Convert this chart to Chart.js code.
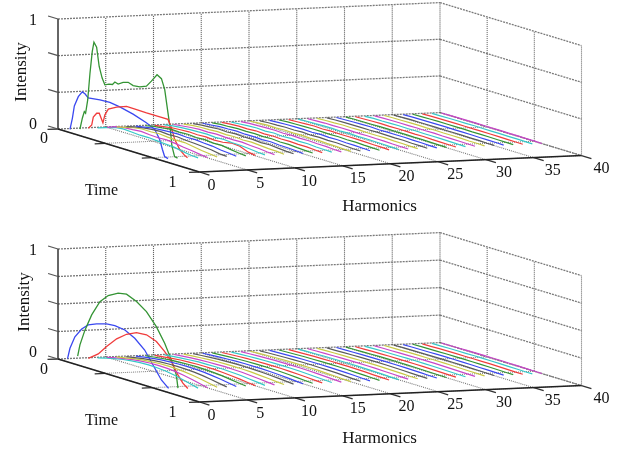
<!DOCTYPE html>
<html>
<head>
    <title>Harmonics waterfall</title>
    <script src="https://cdn.jsdelivr.net/npm/chart.js"></script>
    <style>
        body { margin: 0; background: #fff; }
        canvas { display: block; }
    </style>
</head>
<body>
<canvas id="topChart" width="634" height="226"></canvas>
<canvas id="bottomChart" width="634" height="226"></canvas>

<script>
/* AXES */
const harmonicTicks = [0, 5, 10, 15, 20, 25, 30, 35, 40];
const timeTicks = [0, 1 / 3, 2 / 3, 1];
const topIntensityTicks = [0, 1 / 3, 2 / 3, 1];
const bottomIntensityTicks = [0, 0.25, 0.5, 0.75, 1];

/* TOP PLOT, harmonics 1-3 */
const topH1Time = [.017,.034,.048,.076,.104,.123,.146,.229,.299,.369,.463,.557,.616,.651,.670,.686,.71];
const topH1Int = [0,.107,.224,.32,.374,.364,.336,.351,.355,.341,.312,.271,.234,.156,.074,.014,.005];
const topH2Time = [.02,.037,.051,.06,.075,.091,.107,.119,.138,.156,.177,.196,.225,.25,.267,.29,.325,.361,.396,.443,.49,.525,.565,.596,.619,.642,.659,.67,.689,.71];
const topH2Int = [0,.105,.17,.159,.286,.535,.738,.828,.791,.622,.525,.471,.489,.495,.524,.515,.544,.558,.542,.549,.574,.633,.707,.683,.595,.392,.247,.1,.011,.005];
const topH3Time = [.012,.036,.047,.071,.089,.115,.129,.153,.212,.282,.353,.423,.517,.575,.599,.622,.657,.692,.713];
const topH3Int = [0,.04,.115,.16,.167,.09,.168,.229,.271,.305,.303,.301,.302,.301,.235,.138,.061,.02,.005];

/* BOTTOM PLOT, harmonics 1-3 */
const bottomH1Time = [0,.017,.052,.1,.146,.205,.276,.334,.405,.475,.545,.604,.663,.714];
const bottomH1Int = [0,.1,.219,.308,.363,.395,.423,.43,.418,.37,.291,.178,.065,.009];
const bottomH2Time = [.004,.02,.056,.103,.161,.22,.29,.349,.42,.49,.56,.619,.666,.701,.713];
const bottomH2Int = [.02,.129,.279,.434,.577,.655,.705,.718,.679,.615,.506,.378,.245,.122,.006];
const bottomH3Time = [.012,.082,.141,.212,.282,.352,.423,.493,.552,.599,.645,.68,.715];
const bottomH3Int = [0,.067,.157,.255,.324,.366,.374,.34,.272,.2,.096,.035,0];

/* HARMONICS 4-40, sampled at lowTime, one row per harmonic */
const lowTime = [.01,.07,.13,.19,.25,.31,.37,.43,.49,.55,.61,.67,.72];
const topLow = [
    [0,.025,.05,.06,.055,.05,.052,.045,.04,.035,.02,.008,.004],
    [0,.03,.045,.05,.058,.05,.046,.05,.042,.03,.022,.01,.004],
    [0,.02,.04,.052,.05,.056,.048,.044,.046,.034,.02,.012,.005],
    [0,.02,.035,.045,.05,.044,.048,.04,.036,.03,.024,.01,.006],
    [0,.015,.03,.036,.042,.045,.04,.042,.034,.03,.018,.012,.004],
    [0,.018,.028,.04,.036,.04,.034,.038,.03,.032,.02,.01,.004],
    [0,.012,.025,.03,.035,.032,.036,.03,.034,.05,.045,.014,.004],
    [0,.014,.022,.028,.03,.034,.028,.032,.026,.024,.018,.01,.005],
    [0,.01,.02,.026,.024,.03,.026,.024,.028,.02,.016,.008,.004],
    [0,.012,.018,.02,.026,.022,.026,.02,.024,.018,.012,.01,.004],
    [0,.01,.016,.022,.018,.024,.02,.022,.016,.02,.012,.006,.004],
    [0,.008,.016,.018,.022,.018,.02,.016,.02,.014,.012,.008,.003],
    [0,.01,.012,.018,.016,.02,.016,.02,.014,.016,.01,.006,.004],
    [0,.008,.014,.012,.018,.014,.018,.014,.016,.012,.012,.008,.003],
    [0,.006,.012,.016,.012,.018,.012,.016,.012,.014,.008,.006,.004],
    [0,.008,.01,.014,.016,.012,.016,.012,.014,.01,.01,.005,.003],
    [0,.006,.012,.01,.014,.012,.014,.01,.014,.01,.008,.006,.003],
    [0,.006,.008,.012,.01,.014,.01,.014,.01,.012,.008,.004,.003],
    [0,.005,.01,.012,.012,.01,.014,.01,.012,.008,.008,.005,.002],
    [0,.006,.008,.01,.012,.012,.01,.012,.008,.01,.006,.004,.003],
    [0,.004,.008,.012,.008,.012,.01,.01,.01,.008,.006,.005,.002],
    [0,.005,.006,.01,.01,.008,.012,.008,.01,.008,.007,.004,.002],
    [0,.004,.008,.008,.01,.01,.008,.01,.008,.008,.005,.004,.003],
    [0,.004,.006,.01,.008,.01,.008,.008,.01,.006,.006,.003,.002],
    [0,.005,.006,.008,.008,.008,.01,.008,.006,.008,.005,.004,.002],
    [0,.003,.006,.008,.01,.006,.008,.008,.008,.006,.005,.003,.002],
    [0,.004,.005,.006,.008,.008,.006,.008,.006,.006,.005,.003,.002],
    [0,.003,.006,.007,.006,.008,.008,.006,.008,.005,.004,.003,.002],
    [0,.004,.004,.006,.008,.006,.007,.006,.006,.006,.004,.003,.002],
    [0,.003,.005,.006,.006,.007,.006,.007,.005,.005,.004,.003,.002],
    [0,.003,.004,.006,.006,.005,.007,.005,.006,.005,.003,.003,.001],
    [0,.002,.005,.005,.006,.006,.005,.006,.005,.004,.004,.002,.002],
    [0,.003,.004,.005,.005,.006,.005,.005,.005,.004,.003,.003,.001],
    [0,.002,.004,.005,.005,.005,.006,.004,.005,.004,.003,.002,.002],
    [0,.003,.003,.004,.005,.005,.004,.005,.004,.004,.003,.002,.001],
    [0,.002,.003,.004,.004,.005,.004,.004,.004,.003,.003,.002,.001],
    [0,.002,.003,.004,.004,.004,.004,.004,.003,.003,.002,.002,.001]
];
const bottomLow = [
    [0,.02,.04,.055,.066,.073,.076,.074,.067,.054,.038,.018,.002],
    [0,.02,.036,.05,.06,.066,.068,.066,.06,.048,.034,.016,.002],
    [0,.016,.032,.044,.052,.058,.06,.058,.052,.043,.03,.014,.002],
    [0,.014,.028,.038,.046,.05,.052,.05,.046,.038,.026,.012,.002],
    [0,.014,.026,.036,.042,.046,.048,.046,.042,.034,.024,.012,.002],
    [0,.012,.022,.03,.036,.04,.042,.04,.036,.03,.02,.01,.002],
    [0,.01,.02,.028,.032,.036,.037,.036,.032,.026,.018,.009,.002],
    [0,.01,.018,.024,.03,.032,.033,.032,.028,.024,.016,.008,.001],
    [0,.008,.016,.022,.026,.028,.03,.028,.026,.02,.014,.007,.001],
    [0,.008,.014,.02,.024,.026,.027,.026,.024,.018,.013,.006,.001],
    [0,.007,.013,.018,.022,.024,.024,.024,.021,.017,.012,.006,.001],
    [0,.006,.012,.016,.02,.022,.022,.022,.02,.016,.011,.005,.001],
    [0,.006,.011,.015,.018,.02,.02,.02,.018,.014,.01,.005,.001],
    [0,.005,.01,.014,.016,.018,.019,.018,.016,.013,.009,.004,.001],
    [0,.005,.009,.013,.015,.017,.017,.017,.015,.012,.008,.004,.001],
    [0,.004,.008,.012,.014,.015,.016,.015,.014,.011,.008,.004,.001],
    [0,.004,.008,.011,.013,.014,.015,.014,.013,.01,.007,.003,.001],
    [0,.004,.007,.01,.012,.013,.014,.013,.012,.01,.007,.003,.001],
    [0,.004,.007,.009,.011,.012,.013,.012,.011,.009,.006,.003,.001],
    [0,.003,.006,.009,.01,.012,.012,.012,.01,.008,.006,.003,.001],
    [0,.003,.006,.008,.01,.011,.011,.011,.01,.008,.005,.003,.001],
    [0,.003,.005,.008,.009,.01,.011,.01,.009,.007,.005,.002,.001],
    [0,.003,.005,.007,.009,.01,.01,.01,.009,.007,.005,.002,.001],
    [0,.003,.005,.007,.008,.009,.009,.009,.008,.006,.005,.002,.001],
    [0,.002,.005,.006,.008,.009,.009,.009,.008,.006,.004,.002,.001],
    [0,.002,.004,.006,.007,.008,.008,.008,.007,.006,.004,.002,.001],
    [0,.002,.004,.006,.007,.008,.008,.008,.007,.005,.004,.002,.001],
    [0,.002,.004,.005,.007,.007,.008,.007,.007,.005,.004,.002,.001],
    [0,.002,.004,.005,.006,.007,.007,.007,.006,.005,.003,.002,.001],
    [0,.002,.003,.005,.006,.007,.007,.007,.006,.005,.003,.002,.001],
    [0,.002,.003,.005,.006,.006,.007,.006,.006,.004,.003,.002,.001],
    [0,.002,.003,.004,.005,.006,.006,.006,.005,.004,.003,.002,.001],
    [0,.002,.003,.004,.005,.006,.006,.006,.005,.004,.003,.001,.001],
    [0,.002,.003,.004,.005,.005,.006,.005,.005,.004,.003,.001,.001],
    [0,.001,.003,.004,.005,.005,.005,.005,.005,.004,.003,.001,.001],
    [0,.001,.003,.004,.004,.005,.005,.005,.004,.003,.002,.001,.001],
    [0,.001,.002,.004,.004,.005,.005,.005,.004,.003,.002,.001,.001]
];

/* plot3 colour cycle, starts at harmonic 1 */
const lineColors = ["#3a48f0", "#349434", "#f03c3c", "#35c8c8", "#c845c8", "#c8c845", "#5a5a5a"];

/* OBLIQUE PROJECTION of harmonic, time, intensity onto the canvas */
function projector(view) {
    return function (h, t, z) {
        return {
            x: view.ox + h * 9.55 + t * 141.5,
            y: view.oy - h * 0.41 + t * 43 - z * 110
        };
    };
}

function lineSet(points, color, width, dash, order) {
    return {
        data: points,
        showLine: true,
        borderColor: color,
        borderWidth: width,
        borderDash: dash,
        pointRadius: 0,
        tension: 0,
        order: order
    };
}

/* CREATE ONE PLOT */
function createPlot(id, view, intensityTicks, curves, lowRows, labels) {
    const p = projector(view);
    const sets = [];
    const wallColor = "#7a7a7a";
    const dots = [1, 1];
    const wallDots = [2, 1];

    harmonicTicks.forEach(h => {
        if (h > 0) sets.push(lineSet([p(h, 0, 0), p(h, 0, 1)], "#555", 1.1, dots, 200));
        sets.push(lineSet([p(h, 0, 0), p(h, 1, 0)], "#777", 1.1, dots, 200));
    });
    timeTicks.forEach(t => {
        if (t > 0) {
            sets.push(lineSet([p(40, t, 0), p(40, t, 1)], "#666", 1.1, dots, 200));
            sets.push(lineSet([p(0, t, 0), p(40, t, 0)], "#888", 1.1, dots, 200));
        }
    });
    intensityTicks.forEach(z => {
        if (z > 0) sets.push(lineSet([p(0, 0, z), p(40, 0, z)], wallColor, 1.3, wallDots, 200));
        sets.push(lineSet([p(40, 0, z), p(40, 1, z)], wallColor, 1.3, wallDots, 200));
        sets.push(lineSet([p(0, -0.07, z), p(0, 0, z)], "#555", 1.2, [], 150));
    });
    sets.push(lineSet([p(0, 0, 0), p(40, 0, 0)], wallColor, 1.3, wallDots, 200));

    /* axes and their ticks */
    sets.push(lineSet([p(0, 0, 0), p(0, 0, 1)], "#333", 1.5, [], 150));
    sets.push(lineSet([p(0, 0, 0), p(0, 1, 0)], "#222", 1.5, [], 150));
    sets.push(lineSet([p(0, 1, 0), p(40, 1, 0)], "#222", 1.5, [], 150));
    harmonicTicks.forEach(h => {
        sets.push(lineSet([p(h, 1, 0), p(h, 1.07, 0)], "#333", 1.3, [], 150));
    });
    timeTicks.forEach(t => {
        sets.push(lineSet([p(-1.1, t, 0), p(0, t, 0)], "#333", 1.3, [], 150));
    });

    /* waterfall lines, the higher harmonic lies on top */
    curves.forEach((c, i) => {
        const h = i + 1;
        const pts = c.time.map((t, k) => p(h, t, c.int[k]));
        sets.push(lineSet(pts, lineColors[i % 7], 1.3, [], 40 - h));
    });
    lowRows.forEach((row, i) => {
        const h = i + 4;
        const pts = lowTime.map((t, k) => p(h, t, row[k]));
        sets.push(lineSet(pts, lineColors[(h - 1) % 7], 1.2, [], 40 - h));
    });

    const tickText = {
        id: "tickText",
        afterDraw(chart) {
            const ctx = chart.ctx;
            const sx = chart.scales.x, sy = chart.scales.y;
            const put = (text, pos, dx, dy, size, angle) => {
                ctx.save();
                ctx.translate(sx.getPixelForValue(pos.x) + dx, sy.getPixelForValue(pos.y) + dy);
                if (angle) ctx.rotate(angle);
                ctx.font = size + "px 'Liberation Serif'";
                ctx.fillStyle = "#111";
                ctx.textAlign = "center";
                ctx.textBaseline = "middle";
                ctx.fillText(text, 0, 0);
                ctx.restore();
            };
            harmonicTicks.forEach(h => {
                put(String(h), p(h, 1, 0), 12 + h * 0.2, 13.5 - h * 0.01, 16);
            });
            put("0", p(0, 0, 0), -14, labels.timeZero, 16);
            put("1", p(0, 1, 0), -27, 11, 16);
            put("0", p(0, 0, 0), -25, labels.zero, 16);
            put("1", p(0, 0, 1), -25, 2, 16);
            put("Intensity", p(0, 0, 0), labels.intensityX, labels.intensityY, 17, -Math.PI / 2);
            put("Time", p(0, 1, 0), -98, 19, 16);
            put("Harmonics", p(20, 1, 0), labels.harmonicsX, labels.harmonicsY, 17);
        }
    };

    return new Chart(document.getElementById(id), {
        type: "scatter",
        data: { datasets: sets },
        options: {
            responsive: false,
            animation: false,
            layout: { padding: 0 },
            plugins: { legend: { display: false }, tooltip: { enabled: false } },
            scales: {
                x: { type: "linear", min: 0, max: 634, display: false },
                y: { type: "linear", min: 0, max: 226, reverse: true, display: false }
            }
        },
        plugins: [tickText]
    });
}

createPlot("topChart", { ox: 58, oy: 129 }, topIntensityTicks, [
    { time: topH1Time, int: topH1Int },
    { time: topH2Time, int: topH2Int },
    { time: topH3Time, int: topH3Int }
], topLow, { zero: -4, timeZero: 10, intensityX: -36, intensityY: -57, harmonicsX: -11, harmonicsY: 43 });

createPlot("bottomChart", { ox: 58, oy: 133 }, bottomIntensityTicks, [
    { time: bottomH1Time, int: bottomH1Int },
    { time: bottomH2Time, int: bottomH2Int },
    { time: bottomH3Time, int: bottomH3Int }
], bottomLow, { zero: -6, timeZero: 11, intensityX: -33, intensityY: -57, harmonicsX: -11, harmonicsY: 45 });
</script>
</body>
</html>
